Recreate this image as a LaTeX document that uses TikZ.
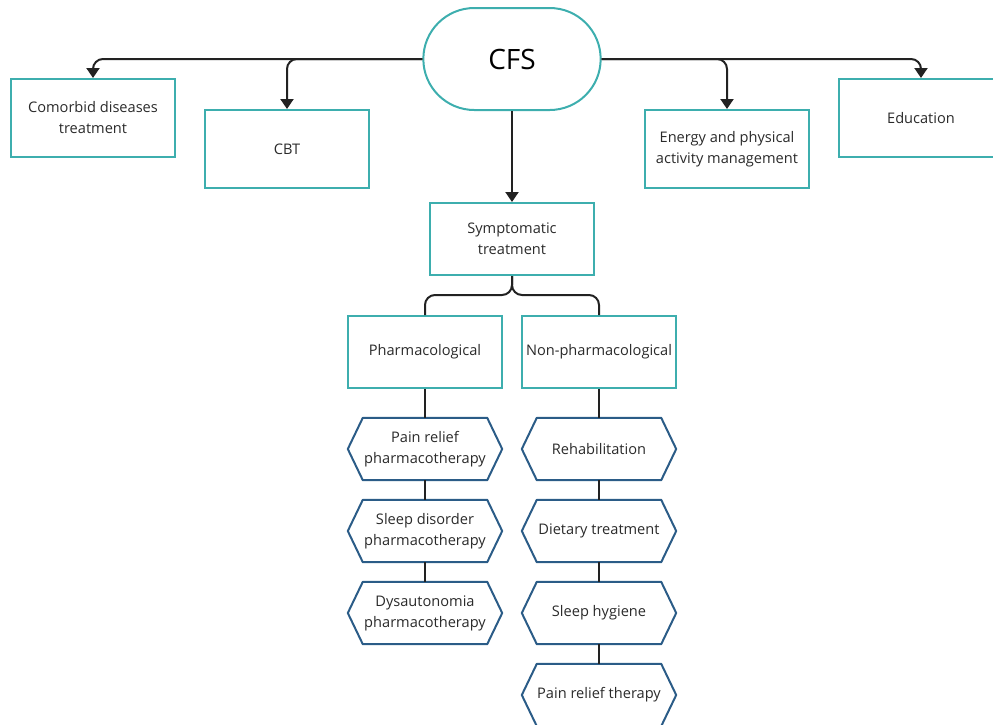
\documentclass[tikz,border=0pt]{standalone}
\usepackage{fontspec}
\setmainfont{Open Sans}
\usetikzlibrary{shapes.misc,arrows.meta}
\definecolor{tealc}{HTML}{3DAEAE}
\definecolor{hexblue}{HTML}{2B5C87}
\definecolor{txtc}{HTML}{2A2A2A}
\definecolor{connc}{HTML}{222222}
\tikzset{
  lbl/.style={text=txtc, align=center, font=\fontsize{14.6}{21}\selectfont},
  box/.style={lbl, draw=tealc, line width=2pt, minimum width=164pt, minimum height=78pt, inner sep=2pt},
  midbox/.style={box, minimum width=154pt, minimum height=72pt},
  hexnode/.style={lbl, minimum width=154pt, minimum height=62pt, inner sep=0pt},
  hexline/.style={draw=hexblue, line width=2pt, line join=round},
  conn/.style={draw=connc, line width=2pt, rounded corners=10pt},
  arr/.style={conn, -{Triangle[width=13pt,length=10pt]}}
}
\begin{document}
\begin{tikzpicture}[x=1pt,y=-1pt]
\useasboundingbox (0,0) rectangle (993,724);
\clip (0,0) rectangle (993,724);
\node[rounded rectangle, draw=tealc, line width=2pt, minimum width=184pt, minimum height=102pt, text=black, font=\fontsize{28}{32}\selectfont] (cfs) at (512,59) {CFS};
\node[box] (com) at (93,118) {Comorbid diseases\\treatment};
\node[box] (cbt) at (287,149) {CBT};
\node[box] (ene) at (727,149) {Energy and physical\\activity management};
\node[box] (edu) at (921,118) {Education};
\node[box, minimum height=72pt] (sym) at (512,239) {Symptomatic\\treatment};
\node[midbox] (pha) at (425,352) {Pharmacological};
\node[midbox] (non) at (599,352) {Non-pharmacological};
\node[hexnode] (l1) at (425,449) {Pain relief\\pharmacotherapy};
\node[hexnode] (l2) at (425,531) {Sleep disorder\\pharmacotherapy};
\node[hexnode] (l3) at (425,613) {Dysautonomia\\pharmacotherapy};
\node[hexnode] (r1) at (599,449) {Rehabilitation};
\node[hexnode] (r2) at (599,531) {Dietary treatment};
\node[hexnode] (r3) at (599,613) {Sleep hygiene};
\node[hexnode] (r4) at (599,695) {Pain relief therapy};
\foreach \n in {l1,l2,l3,r1,r2,r3,r4}
  \draw[hexline] (\n.west) -- ([xshift=15pt]\n.north west) -- ([xshift=-15pt]\n.north east) -- (\n.east) -- ([xshift=-15pt]\n.south east) -- ([xshift=15pt]\n.south west) -- cycle;
% top connectors
\draw[arr] (cfs.west) -| (com.north);
\draw[arr] (cfs.west) -| (cbt.north);
\draw[arr] (cfs.east) -| (edu.north);
\draw[arr] (cfs.east) -| (ene.north);
\draw[arr] (cfs.south) -- (sym.north);
% brace
\coordinate (mid) at (512,295);
\draw[conn] (sym.south) -- (mid) -| (pha.north);
\draw[conn] (sym.south) -- (mid) -| (non.north);
% chains
\draw[conn] (pha.south) -- (l1.north);
\draw[conn] (l1.south) -- (l2.north);
\draw[conn] (l2.south) -- (l3.north);
\draw[conn] (non.south) -- (r1.north);
\draw[conn] (r1.south) -- (r2.north);
\draw[conn] (r2.south) -- (r3.north);
\draw[conn] (r3.south) -- (r4.north);
\end{tikzpicture}
\end{document}
